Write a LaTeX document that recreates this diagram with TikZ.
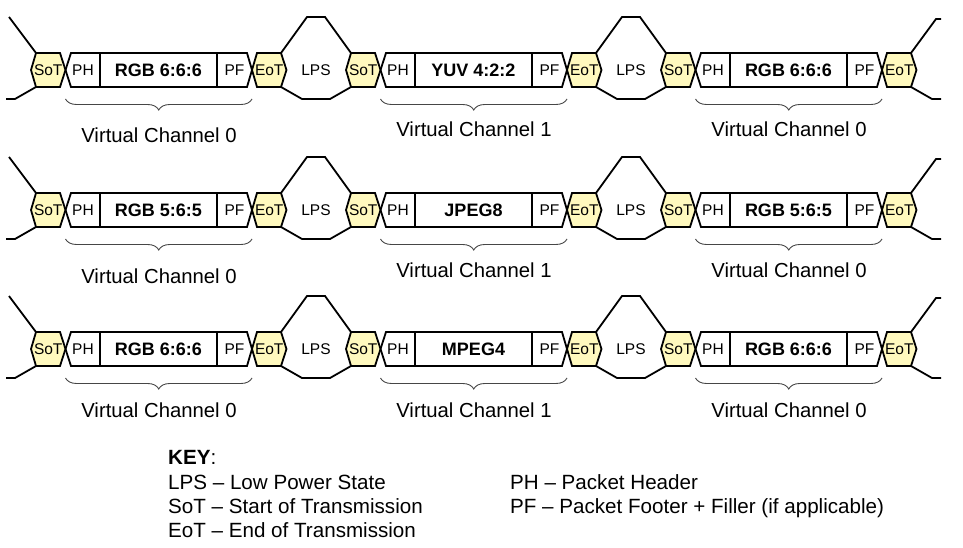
\documentclass[tikz,border=0pt]{standalone}
\usepackage{fontspec}
\setmainfont{Liberation Sans}
\usetikzlibrary{decorations.pathreplacing}
\definecolor{tokfill}{RGB}{255,249,190}
\definecolor{bracegray}{RGB}{70,70,70}
\tikzset{
  wire/.style={line width=1.8pt, line join=miter},
  tok/.style={wire, fill=tokfill},
  pkt/.style={wire, fill=white},
  small/.style={font=\fontsize{15.5}{18}\selectfont, inner sep=0pt},
  datalbl/.style={font=\fontsize{18}{21}\selectfont\bfseries, inner sep=0pt},
  vclbl/.style={font=\fontsize{20.3}{24}\selectfont, inner sep=0pt, anchor=base},
  keytxt/.style={font=\fontsize{20.6}{24}\selectfont, inner sep=0pt, anchor=base west},
  vcbrace/.style={decorate, decoration={brace, mirror, amplitude=11pt}, line width=0.9pt, bracegray},
}

\begin{document}
\begin{tikzpicture}[x=1pt,y=-1pt]
\useasboundingbox (0,0) rectangle (963,548);
% three rows of packets, each with three virtual channel slots
\foreach \yc/\da/\db/\lo/\lt [count=\r] in {70/RGB 6:6:6/YUV 4:2:2/73/67, 210/RGB 5:6:5/JPEG8/73/67, 349/RGB 6:6:6/MPEG4/68/68} {
  \begin{scope}[shift={(0,\yc)}]
    % lines leaving the picture at both ends
    \draw[wire] (9,-53) -- (36,-17) (6,29) -- (15,29) -- (36,17);
    \draw[wire] (911,-17) -- (936,-51) -- (941,-51) (911,17) -- (932,29) -- (941,29);
    \foreach \x/\d/\vc/\lv [count=\i] in {31/\da/0/\lo, 346/\db/1/\lt, 661/\da/0/\lt} {
      % low power state between packets
      \ifnum\i<3
        \draw[wire] (\x+250,-17) -- (\x+276,-53) -- (\x+294,-53) -- (\x+320,-17)
                    (\x+250,17) -- (\x+271,29) -- (\x+299,29) -- (\x+320,17);
        \node[small] (lps\r\i) at (\x+285,0) {LPS};
      \fi
      \draw[pkt] (\x+34.5,0) -- (\x+40,-17) -- (\x+216,-17) -- (\x+221,0) -- (\x+216,17) -- (\x+40,17) -- cycle;
      \draw[wire] (\x+69,-17) -- (\x+69,17) (\x+186,-17) -- (\x+186,17);
      \draw[tok] (\x,0) -- (\x+5,-17) -- (\x+29,-17) -- (\x+34.5,0) -- (\x+29,17) -- (\x+5,17) -- cycle;
      \draw[tok] (\x+221,0) -- (\x+226,-17) -- (\x+250,-17) -- (\x+255.5,0) -- (\x+250,17) -- (\x+226,17) -- cycle;
      \node[small] (sot\r\i) at (\x+17.25,0) {SoT};
      \node[small] (ph\r\i) at (\x+52,0) {PH};
      \node[datalbl] (data\r\i) at (\x+127.5,0) {\d};
      \node[small] (pf\r\i) at (\x+203.5,0) {PF};
      \node[small] (eot\r\i) at (\x+238.25,0) {EoT};
      % brace under the packet
      \coordinate (bl\r\i) at (\x+34.5,29);
      \coordinate (br\r\i) at (\x+221,29);
      \draw[vcbrace] (bl\r\i) -- (br\r\i);
      \node[vclbl] (vc\r\i) at (\x+128,\lv) {Virtual Channel \vc};
    }
  \end{scope}
}
% key
\node[keytxt] (keyhead) at (168,464) {\textbf{KEY}:};
\node[keytxt] (keylps) at (168,489) {LPS -- Low Power State};
\node[keytxt] (keysot) at (168,513) {SoT -- Start of Transmission};
\node[keytxt] (keyeot) at (168,537) {EoT -- End of Transmission};
\node[keytxt] (keyph) at (510,489) {PH -- Packet Header};
\node[keytxt] (keypf) at (510,513) {PF -- Packet Footer + Filler (if applicable)};
\end{tikzpicture}
\end{document}
